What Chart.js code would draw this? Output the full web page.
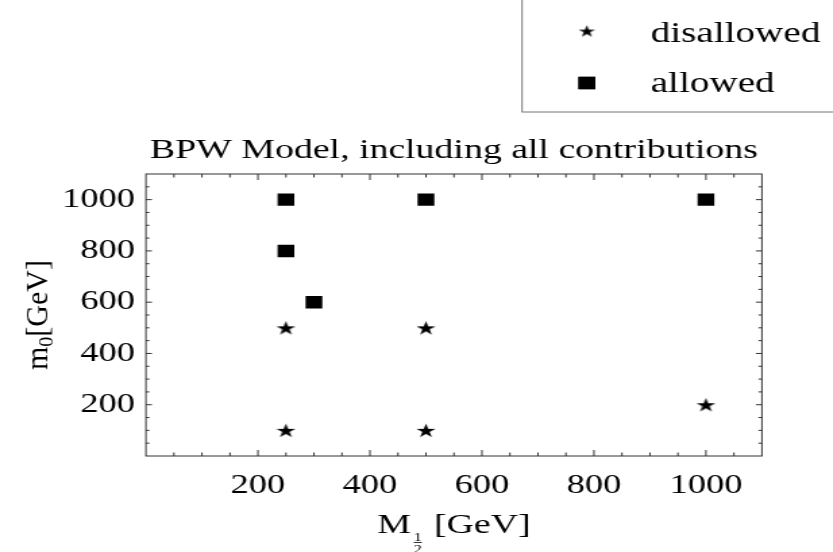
<!DOCTYPE html>
<html>
<head>
<meta charset="utf-8">
<script src="https://cdn.jsdelivr.net/npm/chart.js@4.4.1/dist/chart.umd.min.js"></script>
<style>
  html, body { margin: 0; padding: 0; background: #fff; overflow: hidden; }
  #wrap { width: 833px; height: 552px; overflow: hidden; position: relative; }
  #chart { transform: scaleX(1.35); transform-origin: 0 0; display: block; }
  #probe { position: absolute; left: -999px; top: 0; font-family: "Liberation Serif"; }
</style>
</head>
<body>
<div id="wrap"><canvas id="chart" width="617" height="552"></canvas><span id="probe">0123 BPW</span></div>
<script>
// data (M1/2 vs m0, both in GeV)
const disallowedM12 = [250, 250, 500, 500, 1000];
const disallowedM0 = [100, 500, 100, 500, 200];
const allowedM12 = [250, 250, 300, 500, 1000];
const allowedM0 = [1000, 800, 600, 1000, 1000];
const xTicks = [200, 400, 600, 800, 1000];
const yTicks = [200, 400, 600, 800, 1000];
const seriesNames = ['disallowed', 'allowed'];
const chartTitle = 'BPW Model, including all contributions';

const SERIF = '"Liberation Serif", "Times New Roman", Tinos, serif';
const stretch = 1.35; // the original picture is wider than tall, so the canvas is stretched sideways

function makeStar(r) {
  const c = document.createElement('canvas');
  const size = Math.ceil(r * 2) + 2;
  c.width = size;
  c.height = size;
  const g = c.getContext('2d');
  const cx = size / 2, cy = size / 2 + r * 0.095;
  g.beginPath();
  for (let i = 0; i < 10; i++) {
    const rad = i % 2 === 0 ? r : r * 0.382;
    const a = -Math.PI / 2 + i * Math.PI / 5;
    g.lineTo(cx + rad * Math.cos(a), cy + rad * Math.sin(a));
  }
  g.closePath();
  g.fillStyle = '#000';
  g.fill();
  return c;
}

const starImg = makeStar(7.4);
const legendStar = makeStar(6.4);

const framePlugin = {
  id: 'frame',
  afterDraw(chart) {
    const { ctx, chartArea: a, scales: { x, y } } = chart;
    ctx.save();

    // frame with inward ticks on all four sides
    ctx.strokeStyle = '#333';
    ctx.lineWidth = 1;
    ctx.strokeRect(a.left, a.top, a.right - a.left, a.bottom - a.top);
    ctx.beginPath();
    for (let v = 50; v < 1100; v += 50) {
      const major = v % 200 === 0;
      const lv = major ? 6 : 3.5;
      const lh = lv / stretch;
      const px = x.getPixelForValue(v);
      ctx.moveTo(px, a.bottom); ctx.lineTo(px, a.bottom - lv);
      ctx.moveTo(px, a.top); ctx.lineTo(px, a.top + lv);
      const py = y.getPixelForValue(v);
      ctx.moveTo(a.left, py); ctx.lineTo(a.left + lh, py);
      ctx.moveTo(a.right, py); ctx.lineTo(a.right - lh, py);
    }
    ctx.stroke();

    const cx = (a.left + a.right) / 2;
    const cy = (a.top + a.bottom) / 2;
    ctx.fillStyle = '#000';
    ctx.textBaseline = 'alphabetic';

    // title
    ctx.font = '28px ' + SERIF;
    ctx.textAlign = 'center';
    ctx.fillText(chartTitle, cx, 158);

    // x axis title: M with a 1/2 subscript, then [GeV]
    ctx.textAlign = 'left';
    ctx.font = '28px ' + SERIF;
    const wM = ctx.measureText('M').width;
    const wG = ctx.measureText('[GeV]').width;
    const wF = 6;
    const total = wM + 2 + wF + 9 + wG;
    let tx = cx - total / 2;
    ctx.fillText('M', tx, 533);
    tx += wM + 2;
    ctx.font = '12px ' + SERIF;
    ctx.textAlign = 'center';
    ctx.fillText('1', tx + wF / 2, 541);
    ctx.fillText('2', tx + wF / 2, 553);
    ctx.fillRect(tx, 542, wF, 0.8);
    tx += wF + 9;
    ctx.textAlign = 'left';
    ctx.font = '28px ' + SERIF;
    ctx.fillText('[GeV]', tx, 533);

    // y axis title: m0[GeV], rotated
    ctx.save();
    ctx.translate(34.6, cy);
    ctx.rotate(-Math.PI / 2);
    ctx.scale(1, 1 / stretch);
    ctx.font = '30px ' + SERIF;
    const wm = ctx.measureText('m').width;
    const wRest = ctx.measureText('[GeV]').width;
    ctx.font = '20px ' + SERIF;
    const w0 = ctx.measureText('0').width;
    let ty = -(wm + w0 + wRest) / 2;
    ctx.font = '30px ' + SERIF;
    ctx.fillText('m', ty, 0);
    ty += wm;
    ctx.font = '20px ' + SERIF;
    ctx.fillText('0', ty, 6);
    ty += w0;
    ctx.font = '30px ' + SERIF;
    ctx.fillText('[GeV]', ty, 0);
    ctx.restore();

    // legend box in the top right corner
    ctx.strokeStyle = '#777';
    ctx.strokeRect(386.7, -5, 300, 117);
    const markers = [legendStar, 'rect'];
    const rowY = [31, 83];
    const baseY = [42, 92];
    chart.data.datasets.forEach((ds, i) => {
      if (markers[i] === 'rect') {
        Chart.helpers.drawPoint(ctx, { pointStyle: 'rect', radius: 8.8, rotation: 0, borderWidth: 0 }, 434.7, rowY[i]);
        ctx.fill();
      } else {
        ctx.drawImage(markers[i], 434.7 - markers[i].width / 2, rowY[i] - markers[i].height / 2);
      }
      ctx.font = '29px ' + SERIF;
      ctx.textAlign = 'left';
      ctx.fillText(ds.label, 482, baseY[i]);
    });

    ctx.restore();
  }
};

const tickFont = { family: SERIF, size: 27 };

function drawChart() {
  new Chart(document.getElementById('chart'), {
    type: 'scatter',
    data: {
      datasets: [
        {
          label: seriesNames[0],
          data: disallowedM12.map((v, i) => ({ x: v, y: disallowedM0[i] })),
          pointStyle: starImg,
          pointRadius: 8,
          backgroundColor: '#000',
          borderWidth: 0
        },
        {
          label: seriesNames[1],
          data: allowedM12.map((v, i) => ({ x: v, y: allowedM0[i] })),
          pointStyle: 'rect',
          pointRadius: 8.8,
          backgroundColor: '#000',
          borderColor: '#000',
          borderWidth: 0
        }
      ]
    },
    options: {
      responsive: false,
      animation: false,
      events: [],
      layout: { padding: { left: 0, right: 52.6, top: 174, bottom: 0 } },
      plugins: {
        legend: { display: false },
        title: { display: false },
        tooltip: { enabled: false }
      },
      scales: {
        x: {
          type: 'linear',
          min: 0,
          max: 1100,
          grid: { display: false, drawTicks: false },
          border: { display: false },
          afterBuildTicks: s => { s.ticks = xTicks.map(v => ({ value: v })); },
          afterFit: s => { s.height = 96; },
          ticks: { font: tickFont, color: '#000', padding: 14, autoSkip: false, maxRotation: 0, callback: v => String(v) }
        },
        y: {
          type: 'linear',
          min: 0,
          max: 1100,
          grid: { display: false, drawTicks: false },
          border: { display: false },
          afterBuildTicks: s => { s.ticks = yTicks.map(v => ({ value: v })); },
          afterFit: s => { s.width = 108.1; },
          ticks: { font: tickFont, color: '#000', padding: 8, autoSkip: false, callback: v => String(v) }
        }
      }
    },
    plugins: [framePlugin]
  });
}

document.fonts.load('27px "Liberation Serif"').then(drawChart, drawChart);
</script>
</body>
</html>
